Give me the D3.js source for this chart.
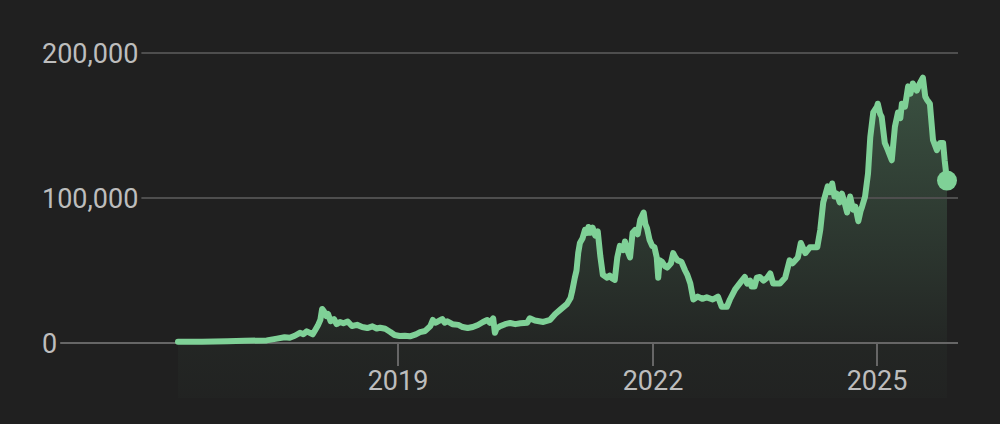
<!DOCTYPE html>
<html>
<head>
<meta charset="utf-8">
<script src="https://cdn.jsdelivr.net/npm/d3@7"></script>
<style>
  html, body { margin: 0; padding: 0; background: #202020; }
  svg { display: block; }
  text { font-family: Roboto, "Noto Sans", sans-serif; }
</style>
</head>
<body>
<svg id="chart" width="1000" height="424"></svg>
<script>
// ---- data (decimal year, price) ----
const years = [
  2016.42, 2016.70, 2017.00, 2017.20, 2017.46, 2017.58, 2017.67, 2017.73, 2017.79, 2017.85,
  2017.89, 2017.93, 2018.00, 2018.03, 2018.06, 2018.09, 2018.11, 2018.13, 2018.16, 2018.18,
  2018.21, 2018.25, 2018.28, 2018.32, 2018.36, 2018.41, 2018.46, 2018.52, 2018.58, 2018.64,
  2018.70, 2018.75, 2018.79, 2018.85, 2018.91, 2018.96, 2019.02, 2019.08, 2019.14, 2019.21,
  2019.26, 2019.32, 2019.38, 2019.41, 2019.44, 2019.46, 2019.52, 2019.55, 2019.58, 2019.64,
  2019.71, 2019.76, 2019.82, 2019.88, 2019.94, 2020.00, 2020.05, 2020.08, 2020.12, 2020.14,
  2020.16, 2020.20, 2020.26, 2020.32, 2020.38, 2020.44, 2020.52, 2020.55, 2020.61, 2020.71,
  2020.79, 2020.85, 2020.91, 2020.99, 2021.03, 2021.05, 2021.08, 2021.10, 2021.12, 2021.14,
  2021.17, 2021.20, 2021.22, 2021.24, 2021.26, 2021.29, 2021.32, 2021.35, 2021.38, 2021.41,
  2021.46, 2021.49, 2021.52, 2021.55, 2021.58, 2021.61, 2021.65, 2021.67, 2021.69, 2021.73,
  2021.76, 2021.79, 2021.82, 2021.85, 2021.89, 2021.91, 2021.93, 2021.96, 2021.99, 2022.02,
  2022.05, 2022.07, 2022.09, 2022.12, 2022.16, 2022.19, 2022.24, 2022.27, 2022.30, 2022.33,
  2022.38, 2022.43, 2022.46, 2022.50, 2022.54, 2022.60, 2022.66, 2022.72, 2022.80, 2022.87,
  2022.92, 2022.99, 2023.03, 2023.10, 2023.19, 2023.23, 2023.26, 2023.30, 2023.32, 2023.36,
  2023.39, 2023.43, 2023.48, 2023.53, 2023.57, 2023.61, 2023.70, 2023.77, 2023.83, 2023.87,
  2023.94, 2023.98, 2024.04, 2024.10, 2024.20, 2024.24, 2024.28, 2024.34, 2024.37, 2024.40,
  2024.43, 2024.46, 2024.50, 2024.53, 2024.57, 2024.60, 2024.64, 2024.68, 2024.71, 2024.75,
  2024.78, 2024.80, 2024.84, 2024.88, 2024.91, 2024.95, 2025.00, 2025.01, 2025.04, 2025.06,
  2025.10, 2025.14, 2025.19, 2025.23, 2025.27, 2025.30, 2025.32, 2025.36, 2025.40, 2025.43,
  2025.46, 2025.51, 2025.55, 2025.59, 2025.62, 2025.64, 2025.68, 2025.72, 2025.77, 2025.81,
  2025.85, 2025.87, 2025.90
];
const prices = [
  800, 900, 1200, 1500, 1800, 3000, 4000, 3600, 5000, 7000,
  6000, 8000, 6000, 9000, 12000, 16000, 23500, 22000, 18500, 20000,
  15000, 16500, 13000, 14500, 13600, 14800, 11700, 12500, 11000, 10300,
  11500, 10000, 10500, 9800, 7600, 5500, 4800, 5000, 4600, 6000,
  7500, 8300, 11700, 15900, 14000, 14500, 16500, 14000, 15000, 13000,
  12500, 11000, 10300, 11000, 12400, 14500, 15900, 14000, 17000, 7000,
  10000, 11500, 13000, 13800, 13000, 13600, 14000, 17000, 15500, 14500,
  16000, 20000, 23000, 27000, 31000, 36000, 45000, 50000, 62000, 69000,
  72000, 78000, 76000, 80000, 76000, 79500, 74000, 77000, 60000, 47000,
  45000, 46500, 44500, 43500, 59000, 67000, 64000, 70000, 65000, 59000,
  76000, 78000, 75000, 85000, 90000, 82000, 79000, 71000, 67000, 66000,
  59000, 45000, 57000, 56000, 53000, 52000, 55000, 62000, 59000, 57000,
  56000, 50000, 47000, 41000, 30000, 32000, 30500, 31500, 30000, 32000,
  25000, 25000, 30000, 37000, 43000, 45500, 41000, 43000, 39000, 39000,
  45000, 45500, 43000, 45000, 48000, 41000, 41000, 45000, 57000, 55000,
  59000, 69000, 62000, 66000, 66000, 78000, 97000, 108000, 104000, 110000,
  101000, 103000, 97000, 103000, 96000, 90000, 101000, 92000, 94000, 84000,
  91000, 94000, 101000, 117000, 142000, 159000, 163000, 165000, 158000, 156000,
  138000, 133000, 126000, 149000, 159000, 155000, 165000, 163000, 177000, 172000,
  179000, 174000, 179000, 183000, 170000, 168000, 165000, 140000, 133000, 138000,
  138000, 126000, 112000
];
const yTicks = [0, 100000, 200000];
const xTickYears = [2019, 2022, 2025];
const xTickLabels = ["2019", "2022", "2025"];

const data = years.map((y, i) => ({ t: y, v: prices[i] }));

// ---- layout ----
const svg = d3.select("#chart");
const gridRight = 958;
const labelX = 42;
const bottomFill = 398;

const x = d3.scaleLinear()
  .domain([2016.42, 2019, 2022, 2025, 2025.9])
  .range([178, 398, 653, 877, 947]);
const y = d3.scaleLinear().domain([0, 200000]).range([343, 53]);

const green = "#7fd197";

// gradient
const defs = svg.append("defs");
const grad = defs.append("linearGradient")
  .attr("id", "fillGrad")
  .attr("gradientUnits", "userSpaceOnUse")
  .attr("x1", 0).attr("x2", 0)
  .attr("y1", y(200000)).attr("y2", bottomFill);
const baseOffset = (y(0) - y(200000)) / (bottomFill - y(200000));
grad.append("stop").attr("offset", 0).attr("stop-color", green).attr("stop-opacity", 0.30);
grad.append("stop").attr("offset", baseOffset).attr("stop-color", green).attr("stop-opacity", 0.035);
grad.append("stop").attr("offset", 1).attr("stop-color", green).attr("stop-opacity", 0.015);

// area
const area = d3.area()
  .x(d => x(d.t))
  .y0(bottomFill)
  .y1(d => y(d.v));
svg.append("path")
  .datum(data)
  .attr("d", area)
  .attr("fill", "url(#fillGrad)");

// y grid + labels
const yg = svg.append("g");
yTicks.forEach(t => {
  const txt = yg.append("text")
    .attr("x", labelX)
    .attr("y", y(t) + 9.6)
    .attr("font-size", 27)
    .attr("fill", "#bdbdbd")
    .text(d3.format(",")(t));
  const w = txt.node().getComputedTextLength();
  yg.insert("line", "text")
    .attr("x1", labelX + w + 3)
    .attr("x2", gridRight)
    .attr("y1", y(t)).attr("y2", y(t))
    .attr("stroke", t === 0 ? "#666666" : "#4e4e4e")
    .attr("stroke-width", 2);
});

// x ticks
const xg = svg.append("g");
xTickYears.forEach((yr, i) => {
  xg.append("line")
    .attr("x1", x(yr)).attr("x2", x(yr))
    .attr("y1", y(0)).attr("y2", y(0) + 23)
    .attr("stroke", "#666666")
    .attr("stroke-width", 2);
  xg.append("text")
    .attr("x", x(yr))
    .attr("y", 390)
    .attr("text-anchor", "middle")
    .attr("font-size", 27)
    .attr("fill", "#bdbdbd")
    .text(xTickLabels[i]);
});

// line
const line = d3.line()
  .x(d => x(d.t))
  .y(d => y(d.v));
svg.append("path")
  .datum(data)
  .attr("d", line)
  .attr("fill", "none")
  .attr("stroke", green)
  .attr("stroke-width", 6)
  .attr("stroke-linejoin", "round")
  .attr("stroke-linecap", "round");

// end dot
const last = data[data.length - 1];
svg.append("circle")
  .attr("cx", x(last.t))
  .attr("cy", y(last.v))
  .attr("r", 10)
  .attr("fill", green);
</script>
</body>
</html>
